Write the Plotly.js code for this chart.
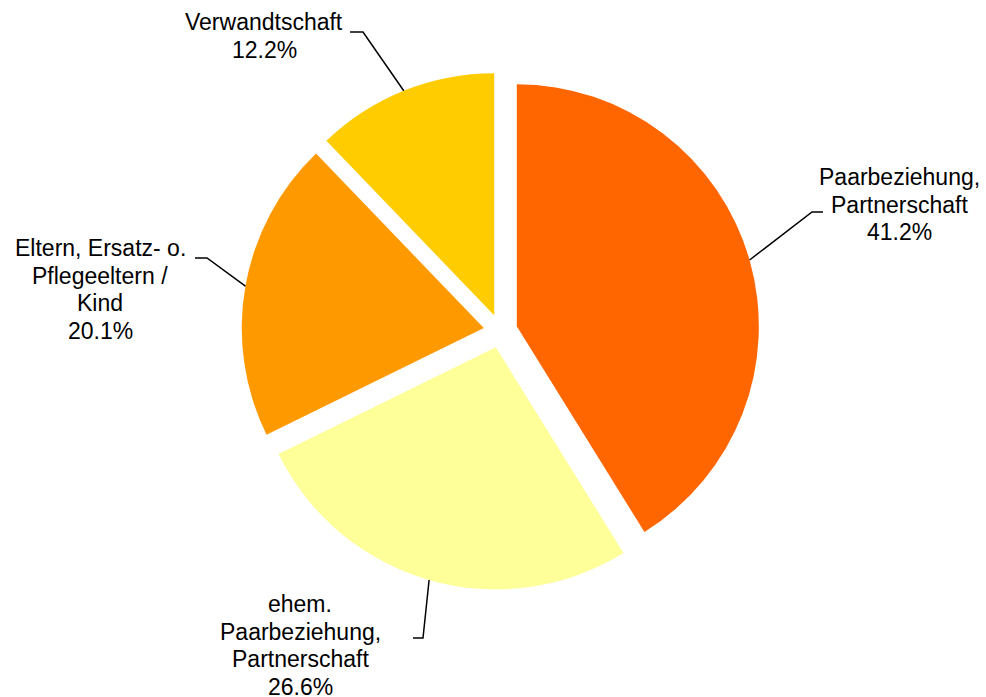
<!DOCTYPE html>
<html>
<head>
<meta charset="utf-8">
<script src="https://cdn.plot.ly/plotly-3.0.1.min.js"></script>
<style>html,body{margin:0;padding:0;background:#fff;}#chart{width:986px;height:697px;}</style>
</head>
<body>
<div id="chart"></div>
<script>
// ---- data ----
const categories = [
  "Paarbeziehung, Partnerschaft",
  "ehem. Paarbeziehung, Partnerschaft",
  "Eltern, Ersatz- o. Pflegeeltern / Kind",
  "Verwandtschaft"
];
const labelLines = [
  ["Paarbeziehung,", "Partnerschaft"],
  ["ehem.", "Paarbeziehung,", "Partnerschaft"],
  ["Eltern, Ersatz- o.", "Pflegeeltern /", "Kind"],
  ["Verwandtschaft"]
];
const shares = [41.2, 26.6, 20.1, 12.2];
const colors = ["#FF6600", "#FFFF99", "#FF9900", "#FFCC00"];

// ---- layout helpers (pixel placement of labels) ----
const W = 986, H = 697;
const domX = [241.5 / W, 759.5 / W];
const domY = [1 - 590 / H, 1 - 72 / H];
const pull = 0.07;
const linePitch = 27.7;
const labelPos = [[899, 177], [300, 604], [100, 248], [264, 22]]; // centre x, first line centre y
const elbows = [[[812, 212], [823, 212]], [[423, 638], [413, 638]], [[207, 258], [195, 258]], [[363, 32], [350, 32]]];

const px = x => x / W, py = y => 1 - y / H;

// pie geometry as plotly computes it
const boxW = W * (domX[1] - domX[0]), boxH = H * (domY[1] - domY[0]);
const r = Math.min(boxW, boxH) / (2 + 2 * pull);
const cx = W * (domX[0] + domX[1]) / 2;
const cy = H * (1 - domY[0]) - boxH / 2;
const total = shares.reduce((a, b) => a + b, 0);

const annotations = [], shapes = [];
let cum = 0;
shares.forEach((v, i) => {
  const mid = (cum + v / 2) / total * 2 * Math.PI;
  cum += v;
  const sx = cx + r * (1 + pull) * Math.sin(mid);
  const sy = cy - r * (1 + pull) * Math.cos(mid);
  const e = elbows[i];
  shapes.push({
    type: "path", xref: "paper", yref: "paper",
    path: `M ${px(sx)},${py(sy)} L ${px(e[0][0])},${py(e[0][1])} L ${px(e[1][0])},${py(e[1][1])}`,
    line: {color: "#000", width: 1.5}
  });
  const lines = labelLines[i].concat([v.toFixed(1) + "%"]);
  lines.forEach((t, k) => {
    annotations.push({
      xref: "paper", yref: "paper",
      x: px(labelPos[i][0]), y: py(labelPos[i][1] + k * linePitch),
      xanchor: "center", yanchor: "middle", showarrow: false, align: "center",
      text: t,
      font: {family: "Liberation Sans, Arial, sans-serif", size: 23, color: "#000"}
    });
  });
});

const trace = {
  type: "pie",
  labels: categories,
  values: shares,
  sort: false,
  direction: "clockwise",
  rotation: 0,
  pull: shares.map(() => pull),
  marker: {colors: colors, line: {width: 0}},
  textinfo: "none",
  hoverinfo: "none",
  showlegend: false,
  domain: {x: domX, y: domY}
};

Plotly.newPlot("chart", [trace], {
  width: W, height: H, autosize: false,
  margin: {l: 0, r: 0, t: 0, b: 0},
  paper_bgcolor: "#fff", plot_bgcolor: "#fff",
  showlegend: false,
  annotations: annotations,
  shapes: shapes
}, {displayModeBar: false, staticPlot: true});
</script>
</body>
</html>
